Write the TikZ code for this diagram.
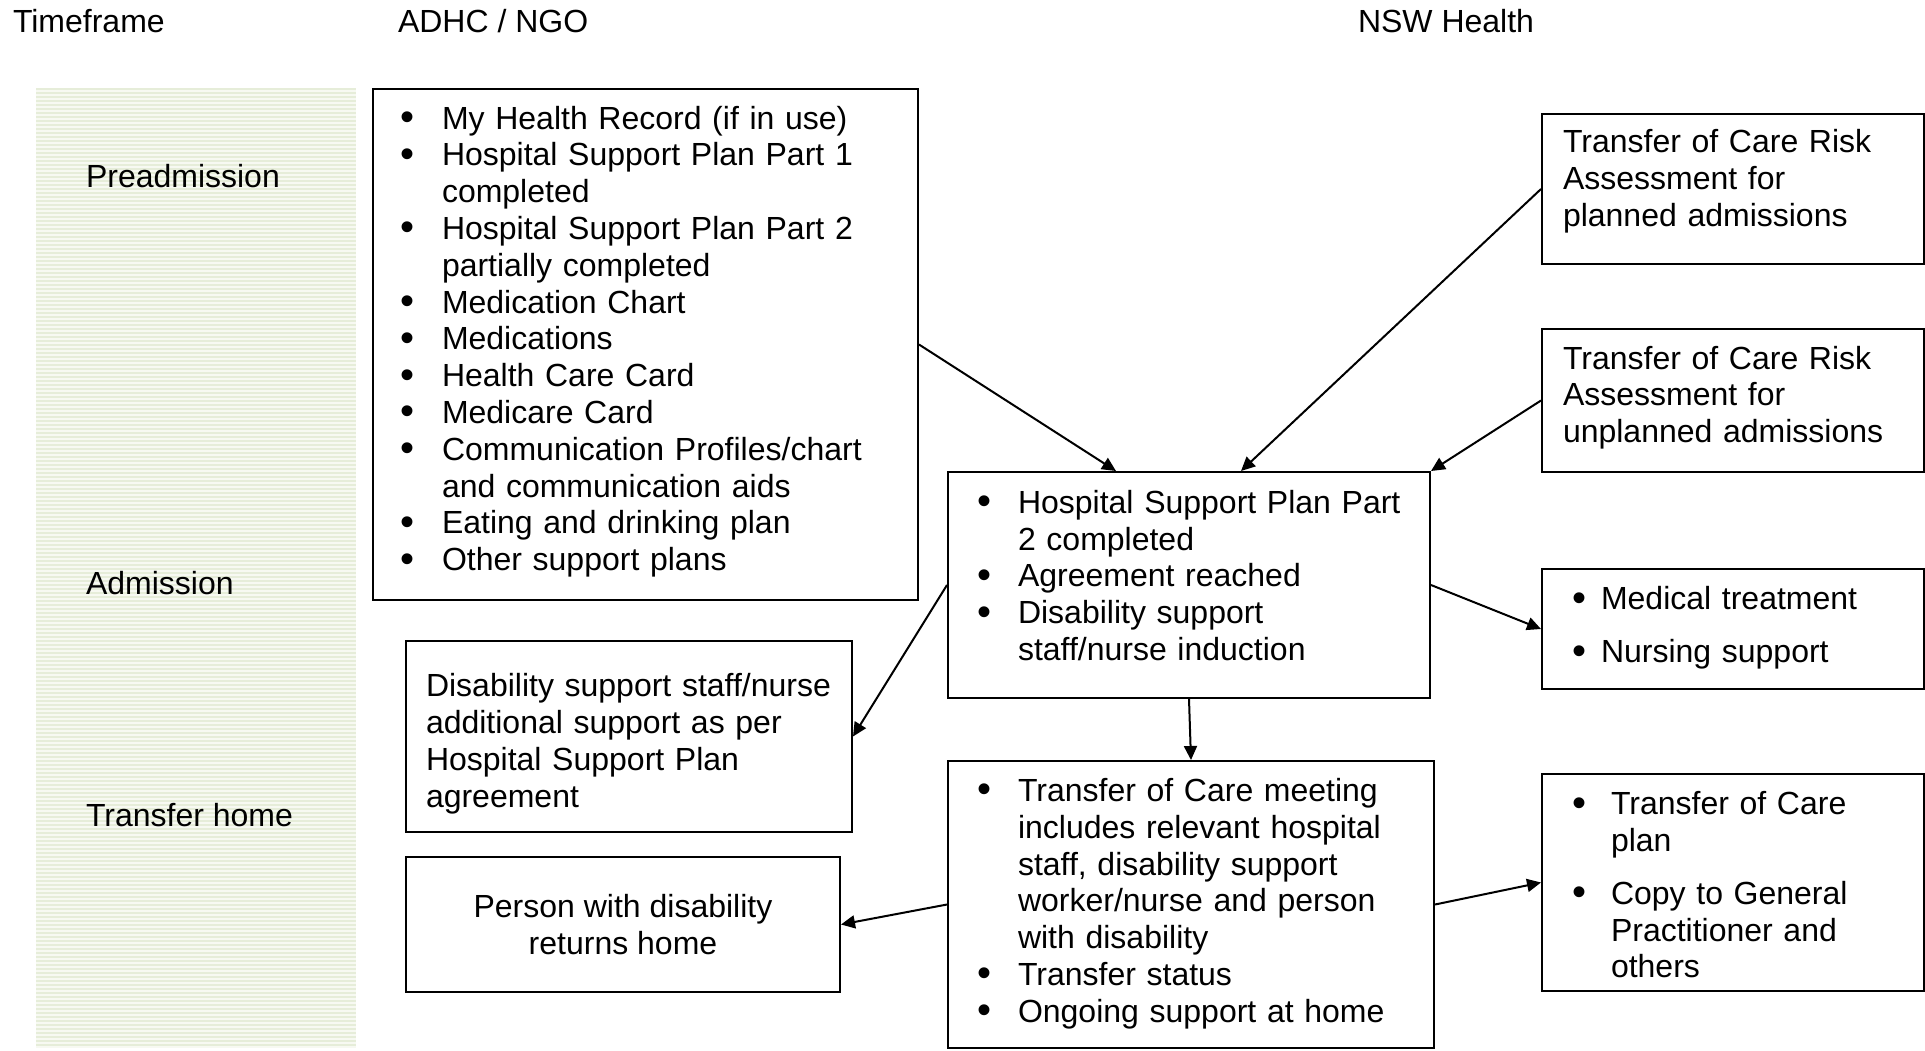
\documentclass[tikz,border=0pt]{standalone}
\usepackage{fontspec}
\setmainfont{Liberation Sans}
\usetikzlibrary{arrows.meta}
\setlength{\parindent}{0pt}
\definecolor{stripegreen}{HTML}{E6EDD9}
\definecolor{barbg}{HTML}{F7F9F2}
\newcommand{\boxfont}{\fontsize{32pt}{36.8pt}\selectfont}
\newcommand{\bul}{\raisebox{-1.5pt}{\scalebox{1.25}{\textbullet}}}

\begin{document}
\begin{tikzpicture}[x=1pt,y=-1pt,>={Triangle[length=14pt,width=13pt]},line width=2pt,
		box/.style={draw,rectangle,anchor=north west,inner ysep=0pt,font=\boxfont,align=left},
		head/.style={anchor=west,inner sep=0pt,font=\boxfont}]
		\useasboundingbox (0,0) rectangle (1925,1050);
		% striped timeframe column
		\fill[barbg] (36,88) rectangle (356,1048);
		\foreach \y in {89,93,...,1047}
			\draw[stripegreen,line width=2pt] (36,\y) -- (356,\y);
		% column headings
		\node[head] (timeh) at (12,21) {Timeframe};
		\node[head] (adhch) at (397,21) {ADHC / NGO};
		\node[head] (nswh) at (1357,21) {NSW Health};
		\node[head] (pre) at (85,176) {Preadmission};
		\node[head] (adm) at (85,583) {Admission};
		\node[head] (trh) at (85,815) {Transfer home};
		% ADHC / NGO side
		\node[box,minimum width=545pt,minimum height=511pt,inner xsep=27pt,text width=491pt] (adhc) at (372,88) {%
			\vspace*{-5pt}\par
			\begin{tabular}{@{}p{42pt}@{}l@{}}
				\bul & My Health Record (if in use)\\
				\bul & Hospital Support Plan Part 1\\
				& completed\\
				\bul & Hospital Support Plan Part 2\\
				& partially completed\\
				\bul & Medication Chart\\
				\bul & Medications\\
				\bul & Health Care Card\\
				\bul & Medicare Card\\
				\bul & Communication Profiles/chart\\
				& and communication aids\\
				\bul & Eating and drinking plan\\
				\bul & Other support plans
			\end{tabular}};
		\node[box,minimum width=446pt,minimum height=191pt,inner xsep=20pt,text width=406pt] (extra) at (405,640) {%
			\vspace*{15pt}\par
			\begin{tabular}{@{}l@{}}
				Disability support staff/nurse\\
				additional support as per\\
				Hospital Support Plan\\
				agreement
			\end{tabular}};
		\node[box,minimum width=434pt,minimum height=135pt,inner xsep=10pt,align=center] (home) at (405,856) {Person with disability\\returns home};
		% NSW Health side
		\node[box,minimum width=382pt,minimum height=150pt,inner xsep=21pt,text width=340pt] (riskp) at (1541,113) {%
			\vspace*{-15pt}\par
			\begin{tabular}{@{}l@{}}
				Transfer of Care Risk\\
				Assessment for\\
				planned admissions
			\end{tabular}};
		\node[box,minimum width=382pt,minimum height=143pt,inner xsep=21pt,text width=340pt] (risku) at (1541,328) {%
			\vspace*{-5pt}\par
			\begin{tabular}{@{}l@{}}
				Transfer of Care Risk\\
				Assessment for\\
				unplanned admissions
			\end{tabular}};
		\node[box,minimum width=482pt,minimum height=226pt,inner xsep=29pt,text width=424pt] (hsp) at (947,471) {%
			\vspace*{-12pt}\par
			\begin{tabular}{@{}p{41pt}@{}l@{}}
				\bul & Hospital Support Plan Part\\
				& 2 completed\\
				\bul & Agreement reached\\
				\bul & Disability support\\
				& staff/nurse induction
			\end{tabular}};
		\node[box,minimum width=382pt,minimum height=120pt,inner xsep=30pt,text width=322pt] (treat) at (1541,568) {%
			\begin{tabular}{@{}p{29pt}@{}l@{}}
				\bul & Medical treatment\\[16pt]
				\bul & Nursing support
			\end{tabular}};
		\node[box,minimum width=486pt,minimum height=287pt,inner xsep=29pt,text width=428pt] (toc) at (947,760) {%
			\begin{tabular}{@{}p{41pt}@{}l@{}}
				\bul & Transfer of Care meeting\\
				& includes relevant hospital\\
				& staff, disability support\\
				& worker/nurse and person\\
				& with disability\\
				\bul & Transfer status\\
				\bul & Ongoing support at home
			\end{tabular}};
		\node[box,minimum width=382pt,minimum height=217pt,inner xsep=30pt,text width=322pt] (plan) at (1541,773) {%
			\vspace*{12pt}\par
			\begin{tabular}{@{}p{39pt}@{}l@{}}
				\bul & Transfer of Care\\
				& plan\\[16pt]
				\bul & Copy to General\\
				& Practitioner and\\
				& others
			\end{tabular}};
		\path[->]
		(adhc.east) edge ([xshift=-73pt]hsp.north)
		(riskp.west) edge ([xshift=52pt]hsp.north)
		(risku.west) edge (hsp.north east)
		(hsp.west) edge (extra.east)
		(hsp.east) edge (treat.west)
		(hsp.south) edge (toc.north)
		(toc.west) edge (home.east)
		(toc.east) edge (plan.west);
\end{tikzpicture}
\end{document}
